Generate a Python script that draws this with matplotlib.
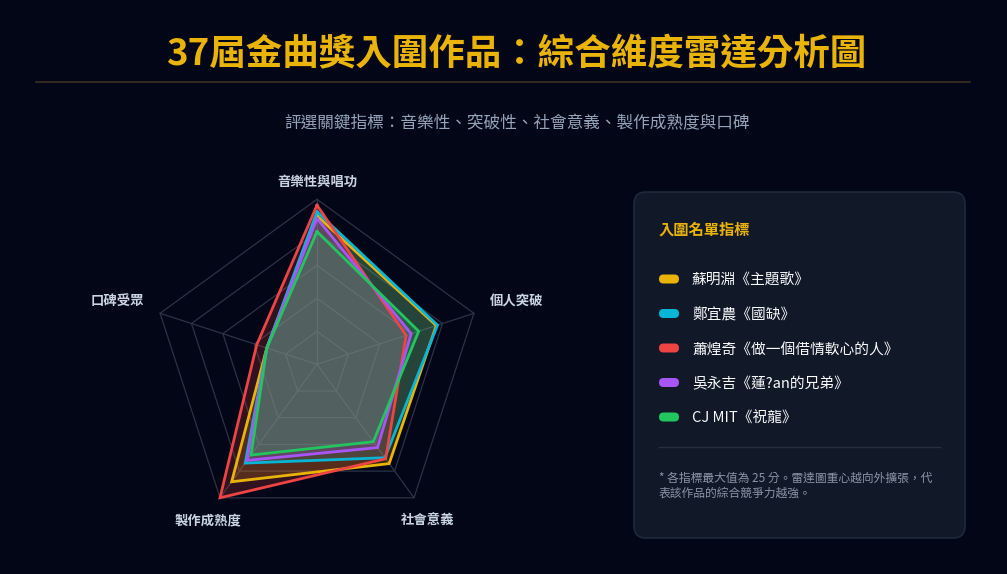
import numpy as np
import matplotlib
matplotlib.use("Agg")
import matplotlib.pyplot as plt
from matplotlib.patches import FancyBboxPatch

plt.rcParams['font.family'] = ['Noto Sans CJK TC', 'DejaVu Sans']

# radar data (max 25 per axis)
categories = ['音樂性與唱功', '個人突破', '社會意義', '製作成熟度', '口碑受眾']
songs = ['蘇明淵《主題歌》', '鄭宜農《國缺》', '蕭煌奇《做一個借情軟心的人》',
         '吳永吉《蓮?an的兄弟》', 'CJ MIT《祝龍》']
su_vals = [22.5, 19.0, 18.6, 22.0, 8.0]
zheng_vals = [23.1, 19.2, 17.5, 18.5, 8.0]
xiao_vals = [24.1, 14.2, 17.7, 25.0, 9.6]
wu_vals = [22.1, 15.0, 15.6, 18.0, 8.0]
cj_vals = [20.1, 16.2, 14.5, 17.0, 8.0]
colors = ['#eab308', '#06b6d4', '#ef4444', '#a855f7', '#22c55e']
grid_levels = [5, 10, 15, 20, 25]

title = '37屆金曲獎入圍作品：綜合維度雷達分析圖'
subtitle = '評選關鍵指標：音樂性、突破性、社會意義、製作成熟度與口碑'
note1 = '* 各指標最大值為 25 分。雷達圖重心越向外擴張，代'
note2 = '表該作品的綜合競爭力越強。'

bg_color = '#020617'
fig = plt.figure(figsize=(10.07, 5.74), dpi=100, facecolor=bg_color)

# overlay in pixel coords for titles and legend panel
bg = fig.add_axes([0, 0, 1, 1])
bg.set_xlim(0, 1007)
bg.set_ylim(574, 0)
bg.axis('off')

bg.text(516, 55, title, ha='center', va='center', fontsize=26.3,
        fontweight='bold', color='#eab308')
bg.plot([36, 970], [82, 82], color='#3a3220', lw=1.2)
bg.text(517, 124, subtitle, ha='center', va='center', fontsize=12,
        color='#94a3b8')

panel = FancyBboxPatch((634, 192), 331, 346,
                       boxstyle='round,pad=0,rounding_size=12',
                       fc='#111827', ec='#1e293b', lw=1.2)
bg.add_patch(panel)
bg.text(659, 230, '入圍名單指標', ha='left', va='center', fontsize=11,
        fontweight='bold', color='#eab308')

row_y = [279, 313.5, 348, 382.5, 417]
for y, name, c in zip(row_y, songs, colors):
    bg.add_patch(FancyBboxPatch((659, y - 4.5), 20, 9,
                                boxstyle='round,pad=0,rounding_size=4.5',
                                fc=c, ec='none'))
    bg.text(692, y + 2, name, ha='left', va='center', fontsize=10.6,
            color='#f8fafc')

bg.plot([659, 940], [447, 447], color='#263041', lw=1)
bg.text(659, 478, note1, ha='left', va='center', fontsize=8.5, color='#8a94a6')
bg.text(659, 493, note2, ha='left', va='center', fontsize=8.5, color='#8a94a6')

# radar chart
cx, cy, R = 317, 364.3, 165
ax = fig.add_axes([(cx - R) / 1007, (574 - cy - R) / 574, 2 * R / 1007, 2 * R / 574],
                  projection='polar')
ax.set_facecolor('none')
ax.set_theta_offset(np.pi / 2)
ax.set_theta_direction(-1)
ax.set_ylim(0, 25)
ax.grid(False)
ax.spines['polar'].set_visible(False)
ax.set_xticks([])
ax.set_yticks([])

n = len(categories)
angles = np.linspace(0, 2 * np.pi, n, endpoint=False)
closed = np.append(angles, angles[0])

for lv in grid_levels:
    ax.plot(closed, [lv] * (n + 1), color='#2b3344', lw=0.9, clip_on=False, zorder=1)
for a in angles:
    ax.plot([a, a], [0, 25], color='#2b3344', lw=0.9, clip_on=False, zorder=1)

series = [su_vals, zheng_vals, xiao_vals, wu_vals, cj_vals]
for vals, c in zip(series, colors):
    v = np.append(vals, vals[0])
    ax.fill(closed, v, color=c, alpha=0.2, lw=0, clip_on=False, zorder=2)
for vals, c in zip(series, colors):
    v = np.append(vals, vals[0])
    ax.plot(closed, v, color=c, lw=2, clip_on=False, zorder=3,
            solid_joinstyle='miter')

label_kw = dict(fontsize=9.6, fontweight='bold', color='#cbd5e1')
ax.text(angles[0], 26.6, categories[0], ha='center', va='bottom', **label_kw)
ax.text(angles[1], 27.5, categories[1], ha='left', va='bottom', **label_kw)
ax.text(angles[2] - 0.01, 28.0, categories[2], ha='center', va='top', **label_kw)
ax.text(angles[3], 28.0, categories[3], ha='center', va='top', **label_kw)
ax.text(angles[4], 27.5, categories[4], ha='right', va='bottom', **label_kw)

fig.savefig('out.png', dpi=100, facecolor=bg_color)
